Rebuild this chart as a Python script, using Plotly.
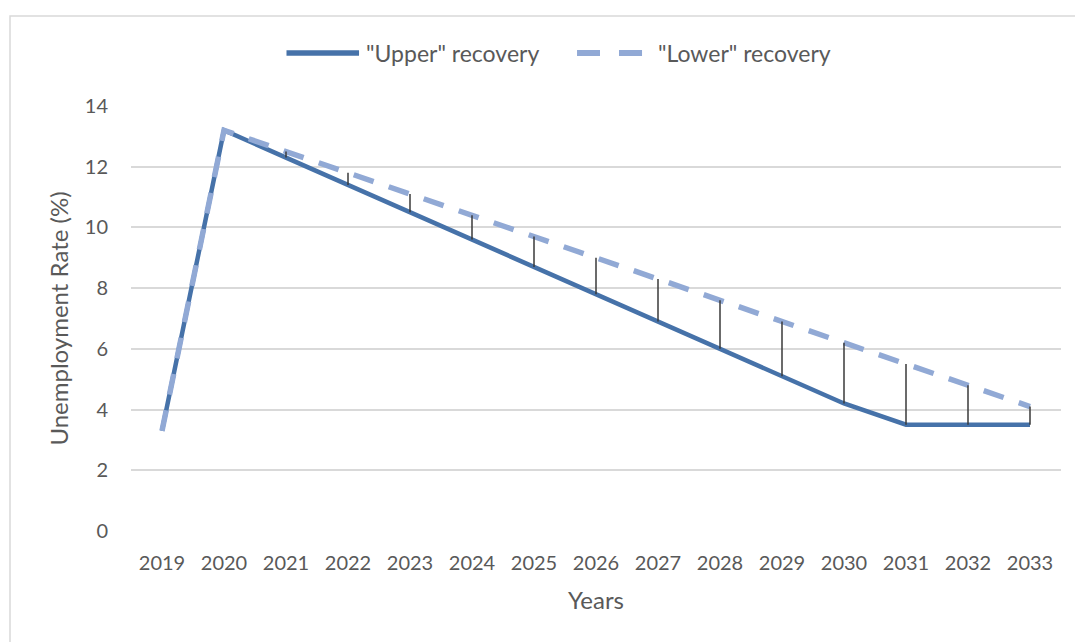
import plotly.graph_objects as go

# Unemployment paths under two recovery scenarios
years = [str(y) for y in range(2019, 2034)]
upper_recovery = [3.3, 13.2, 12.3, 11.4, 10.5, 9.6, 8.7, 7.8, 6.9, 6.0, 5.1, 4.2, 3.5, 3.5, 3.5]
lower_recovery = [3.3, 13.2, 12.5, 11.8, 11.1, 10.4, 9.7, 9.0, 8.3, 7.6, 6.9, 6.2, 5.5, 4.8, 4.1]
y_ticks = [0, 2, 4, 6, 8, 10, 12, 14]

UPPER_COLOR = "#4672a9"
LOWER_COLOR = "#91a9d5"
TEXT_COLOR = "#595959"
GRID_COLOR = "#d9d9d9"
FONT = "Lato"
TICK_SIZE = 20
LEGEND_SIZE = 23
TITLE_SIZE = 24

# High-low lines joining the two scenarios in each year
hl_x, hl_y = [], []
for yr, lo, hi in zip(years, upper_recovery, lower_recovery):
    if abs(hi - lo) > 1e-9:
        hl_x += [yr, yr, None]
        hl_y += [lo, hi, None]

fig = go.Figure()
fig.add_trace(go.Scatter(
    x=years, y=upper_recovery, mode="lines", name='"Upper" recovery',
    line=dict(color=UPPER_COLOR, width=4.5),
))
fig.add_trace(go.Scatter(
    x=years, y=lower_recovery, mode="lines", name='"Lower" recovery',
    line=dict(color=LOWER_COLOR, width=5.5, dash="21px,16px"),
))
fig.add_trace(go.Scatter(
    x=hl_x, y=hl_y, mode="lines", showlegend=False, hoverinfo="skip",
    line=dict(color="#3a3a3a", width=1.5),
))

# Outer chart frame
frame = dict(type="rect", xref="paper", yref="paper",
             x0=-0.1301, x1=1.03, y0=-0.30, y1=1.2118,
             line=dict(color=GRID_COLOR, width=1.5), fillcolor="rgba(0,0,0,0)", layer="below")

# Legend drawn at the top centre
legend_y = 1.1247
shapes = [
    frame,
    dict(type="line", xref="paper", yref="paper", x0=0.1672, x1=0.2452,
         y0=legend_y, y1=legend_y, line=dict(color=UPPER_COLOR, width=5.5)),
    dict(type="line", xref="paper", yref="paper", x0=0.4796, x1=0.5043,
         y0=legend_y, y1=legend_y, line=dict(color=LOWER_COLOR, width=6)),
    dict(type="line", xref="paper", yref="paper", x0=0.5247, x1=0.5495,
         y0=legend_y, y1=legend_y, line=dict(color=LOWER_COLOR, width=6)),
]
annotations = [
    dict(xref="paper", yref="paper", x=0.2505, y=legend_y, xanchor="left", yanchor="middle",
         text='"Upper" recovery', showarrow=False,
         font=dict(family=FONT, size=LEGEND_SIZE, color=TEXT_COLOR)),
    dict(xref="paper", yref="paper", x=0.5645, y=legend_y, xanchor="left", yanchor="middle",
         text='"Lower" recovery', showarrow=False,
         font=dict(family=FONT, size=LEGEND_SIZE, color=TEXT_COLOR)),
]

fig.update_layout(
    width=1075, height=642,
    margin=dict(l=131, r=14, t=106, b=111),
    paper_bgcolor="white", plot_bgcolor="white",
    showlegend=False,
    font=dict(family=FONT, size=TICK_SIZE, color=TEXT_COLOR),
    shapes=shapes, annotations=annotations,
    xaxis=dict(
        type="category", categoryorder="array", categoryarray=years,
        range=[-0.5, 14.5], showgrid=False, zeroline=False, showline=False,
        ticks="", ticklabelstandoff=18,
        title=dict(text="Years", font=dict(family=FONT, size=TITLE_SIZE, color=TEXT_COLOR), standoff=19),
    ),
    yaxis=dict(
        range=[0, 14], tickvals=y_ticks, ticktext=[str(v) for v in y_ticks],
        showgrid=True, gridcolor=GRID_COLOR, gridwidth=1.5, zeroline=False, showline=False,
        ticks="", ticklabelstandoff=22,
        title=dict(text="Unemployment Rate (%)", font=dict(family=FONT, size=TITLE_SIZE, color=TEXT_COLOR), standoff=9),
    ),
)

fig.write_html("out.html")
